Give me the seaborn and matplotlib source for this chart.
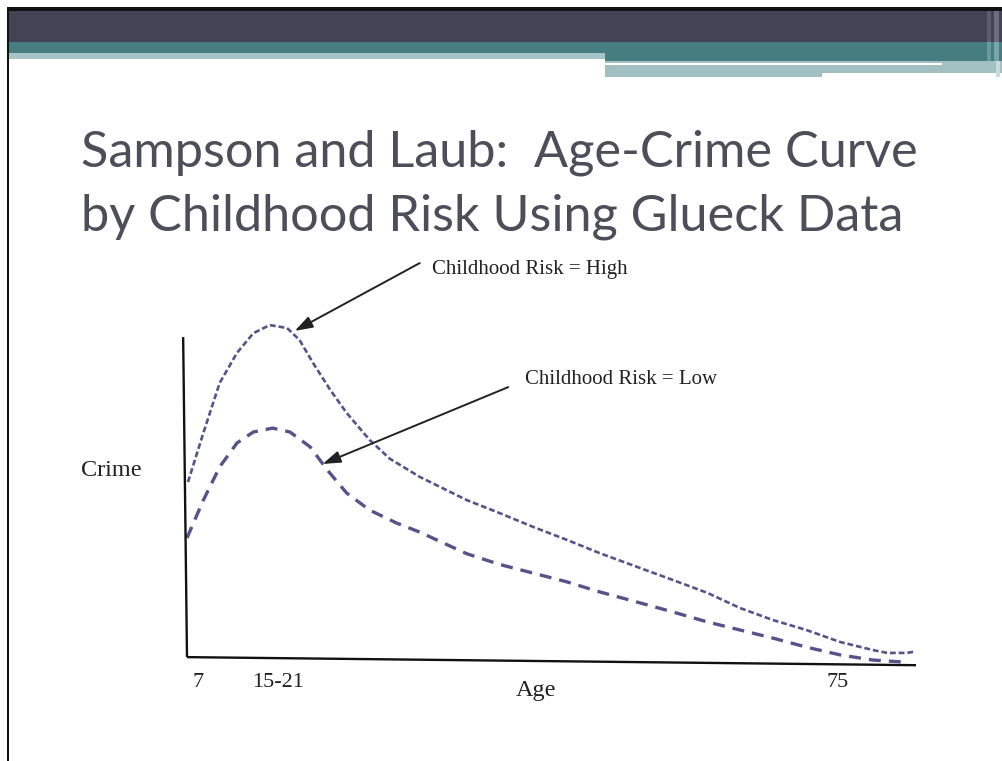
import matplotlib
matplotlib.use("Agg")
import matplotlib.pyplot as plt
from matplotlib.patches import Rectangle
import pandas as pd
import seaborn as sns

# ---- data: age-crime curves by childhood risk (arbitrary crime units) ----
high_age = [7.1, 8.7, 10.4, 12.2, 13.9, 15.6, 17.4, 18.7, 20.1, 21.9, 23.6, 26.0,
            28.1, 31.2, 36.1, 39.5, 43.0, 46.5, 49.9, 54.1, 57.5, 61.1, 64.5,
            67.9, 71.4, 74.9, 78.3, 79.8, 81.8, 82.5]
high_crime = [55.4, 70.6, 86.1, 95.4, 101.5, 104.0, 103.1, 99.4, 92.3, 83.9, 76.8,
              68.4, 62.6, 57.0, 49.8, 45.8, 41.5, 37.5, 33.4, 28.8, 25.1, 21.1,
              16.4, 12.7, 9.6, 5.9, 3.4, 2.5, 2.5, 2.8]
low_age = [7.0, 8.7, 10.4, 12.2, 13.9, 15.9, 17.7, 19.8, 21.6, 23.6, 26.0, 28.8,
           31.2, 36.1, 39.5, 43.0, 46.5, 49.9, 54.1, 57.5, 61.1, 64.5, 67.9,
           71.4, 74.9, 78.3, 81.4]
low_crime = [38.1, 49.8, 60.1, 67.5, 70.9, 72.1, 70.9, 66.3, 59.1, 52.0, 46.7,
             42.7, 39.9, 33.2, 29.9, 27.2, 24.5, 21.4, 18.0, 15.2, 12.1, 9.6,
             7.1, 4.3, 1.9, 0.3, -0.3]
risk_labels = ["Childhood Risk = High", "Childhood Risk = Low"]
age_tick_labels = ["7", "15-21", "75"]
age_tick_pos = [8.2, 16.5, 74.6]

title_lines = ["Sampson and Laub:  Age-Crime Curve",
               "by Childhood Risk Using Glueck Data"]

df = pd.concat([
    pd.DataFrame({"age": high_age, "crime": high_crime, "risk": risk_labels[0]}),
    pd.DataFrame({"age": low_age, "crime": low_crime, "risk": risk_labels[1]}),
], ignore_index=True)

sns.set_theme(style="white")
plt.rcParams["font.family"] = ["DejaVu Sans"]

W, H = 1003, 761
fig = plt.figure(figsize=(W / 100, H / 100), dpi=100)
fig.patch.set_facecolor("white")

# ---- slide background / header band (pixel coordinates) ----
bg = fig.add_axes([0, 0, 1, 1], zorder=0)
bg.set_xlim(0, W)
bg.set_ylim(H, 0)
bg.axis("off")

def band(x0, y0, x1, y1, color):
    bg.add_patch(Rectangle((x0, y0), x1 - x0, y1 - y0, color=color, lw=0))

band(7, 7, W, 10.5, "#111111")          # outer frame, top
band(7, 7, 9.5, H, "#111111")           # outer frame, left
band(9.5, 10.5, W, 42, "#434356")       # dark bar
band(9.5, 42, W, 53, "#457d81")         # teal bar
band(9.5, 53, 605, 58.5, "#a6c4c6")     # light strip, left
band(605, 53, W, 61, "#457d81")         # teal extension, right
band(605, 61, 822, 77, "#a2c0c2")
band(822, 61, W, 73, "#a2c0c2")
band(605, 62.5, 942, 65, "white")
band(987, 10.5, 991, 42, "#5c5c6e")     # thin vertical accents, right edge
band(994, 10.5, 999, 42, "#6c6c7c")
band(987, 42, 991, 61, "#6a9a9d")
band(994, 42, 999, 61, "#7aa6a9")
band(996, 61, 1000, 77, "#c8dcdd")

for i, line in enumerate(title_lines):
    bg.text(81, 166 + 64 * i, line, fontsize=36.4, color="#4e4e5b",
            family=["Lato", "DejaVu Sans"], va="baseline", ha="left")

# ---- chart axes: age 7 -> x=187px, age 75 -> x=841px; crime 0 -> y=661px ----
px_per_year = (841 - 187) / (75 - 7)
px_per_unit = 3.23
x0, x1 = 0.0, 90.0
y0, y1 = -10.0, 130.0
left_px = 187 - 7 * px_per_year
right_px = left_px + (x1 - x0) * px_per_year
bottom_px = 661 - y0 * px_per_unit
top_px = 661 - y1 * px_per_unit
ax = fig.add_axes([left_px / W, (H - bottom_px) / H,
                   (right_px - left_px) / W, (bottom_px - top_px) / H], zorder=2)
ax.patch.set_alpha(0)
ax.set_xlim(x0, x1)
ax.set_ylim(y0, y1)
for s in ax.spines.values():
    s.set_visible(False)
ax.set_xticks([])
ax.set_yticks([])

curve_color = "#54548a"
sns.lineplot(data=df, x="age", y="crime", style="risk", ax=ax,
             color=curve_color, legend=False, estimator=None, sort=True,
             dashes={risk_labels[0]: (2.2, 1.1), risk_labels[1]: (3.6, 2.4)},
             linewidth=1.9)
ax.lines[1].set_linewidth(2.4)

# hand-drawn style axes (slightly tilted like a sketch)
ax.plot([6.6, 7.0], [100.3, 1.2], color="#111111", lw=1.7, solid_capstyle="butt")
ax.plot([7.0, 82.8], [1.2, -1.3], color="#111111", lw=1.7, solid_capstyle="butt")

serif = ["Liberation Serif", "DejaVu Serif"]
txt = "#222222"
for lab, pos in zip(age_tick_labels, age_tick_pos):
    ax.text(pos, -6.8, lab, ha="center", va="center", fontsize=16,
            family=serif, color=txt)
ax.text(43.3, -9.0, "Age", ha="center", va="center", fontsize=17.5, family=serif,
        color=txt)
ax.text(-0.9, 59.1, "Crime", ha="center", va="center", fontsize=17.5,
        family=serif, color=txt)

# annotations: text label plus a separate arrow starting just left of it
arrow_kw = dict(arrowstyle="-|>,head_length=0.9,head_width=0.3",
                color="#222222", lw=1.4, shrinkA=0, shrinkB=0)
ax.text(32.5, 121.3, risk_labels[0], fontsize=15, family=serif, color=txt,
        ha="left", va="center")
ax.annotate("", xy=(18.2, 102.2), xytext=(31.2, 123.2), arrowprops=arrow_kw)
ax.text(42.1, 87.3, risk_labels[1], fontsize=15, family=serif, color=txt,
        ha="left", va="center")
ax.annotate("", xy=(21.1, 61.0), xytext=(40.4, 84.8), arrowprops=arrow_kw)

fig.savefig("out.png", dpi=100, facecolor="white")
